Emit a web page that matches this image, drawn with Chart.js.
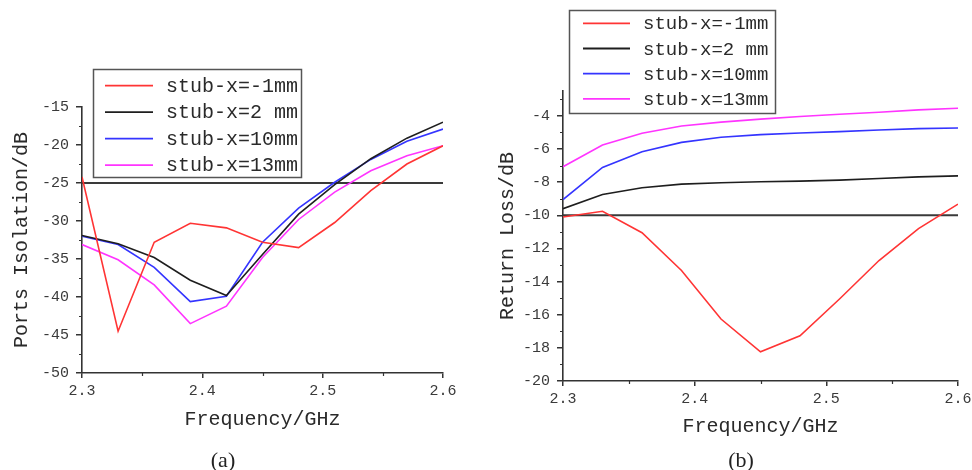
<!DOCTYPE html>
<html>
<head>
<meta charset="utf-8">
<script src="https://cdn.jsdelivr.net/npm/chart.js@4.4.1/dist/chart.umd.min.js"></script>
<style>
  html, body { margin: 0; padding: 0; background: #fff; }
  #wrap { position: relative; width: 972px; height: 470px; overflow: hidden; }
  .pane { position: absolute; top: 0; height: 470px; }
  .cap { position: absolute; top: 460px; transform: translate(-50%, -50%);
         font: 22px "Liberation Serif", serif; color: #222; }
</style>
</head>
<body>
<div id="wrap">
  <div class="pane" style="left:0;width:486px"><canvas id="isoChart"></canvas></div>
  <div class="pane" style="left:486px;width:500px"><canvas id="rlChart"></canvas></div>
  <div class="cap" style="left:223px">(a)</div>
  <div class="cap" style="left:741px">(b)</div>
</div>
<script>
// Frequency sweep points (GHz)
const freqs = [2.30, 2.33, 2.36, 2.39, 2.42, 2.45, 2.48, 2.51, 2.54, 2.57, 2.60];

// Stub offsets shown in the legends
const stubLabels = ['stub-x=-1mm', 'stub-x=2 mm', 'stub-x=10mm', 'stub-x=13mm'];

// (a) Port isolation, dB
const isoM1  = [-24.2, -44.5, -32.8, -30.3, -30.9, -32.8, -33.5, -30.2, -26.0, -22.5, -20.1];
const iso2   = [-31.9, -33.0, -34.8, -37.8, -39.8, -34.4, -29.1, -25.2, -21.8, -19.1, -17.0];
const iso10  = [-32.0, -33.1, -36.1, -40.6, -39.9, -32.8, -28.3, -24.9, -21.9, -19.5, -17.9];
const iso13  = [-33.1, -35.1, -38.4, -43.5, -41.2, -34.8, -29.8, -26.2, -23.4, -21.4, -20.1];
const isoLimit = -25;

// (b) Return loss, dB
const rlM1 = [-10.1, -9.76, -11.05, -13.33, -16.26, -18.24, -17.27, -15.05, -12.73, -10.8, -9.33];
const rl2  = [-9.6, -8.75, -8.34, -8.12, -8.04, -7.98, -7.94, -7.88, -7.78, -7.68, -7.62];
const rl10 = [-9.05, -7.11, -6.16, -5.6, -5.29, -5.13, -5.03, -4.95, -4.85, -4.77, -4.73];
const rl13 = [-7.07, -5.76, -5.05, -4.61, -4.38, -4.2, -4.04, -3.9, -3.78, -3.64, -3.54];
const rlLimit = -10;

// Axis ranges and tick labels
const xTickLabels = ['2.3', '2.4', '2.5', '2.6'];
const isoRange = { min: -50, max: -15, step: 5 };
const rlRange  = { min: -20, max: -2.5, step: 2 };

const seriesColors = ['#ff3434', '#1e1e1e', '#3434ff', '#ff34ff'];
const AXIS = '#333';
const MONO = '"Liberation Mono", "DejaVu Sans Mono", monospace';

function toPoints(ys) { return ys.map((y, i) => ({ x: freqs[i], y })); }

function buildDatasets(seriesList, limit) {
  const ds = seriesList.map((ys, i) => ({
    label: stubLabels[i],
    data: toPoints(ys),
    borderColor: seriesColors[i],
    borderWidth: 1.6,
    pointRadius: 0,
    tension: 0,
    order: 1
  }));
  ds.push({
    label: 'limit',
    inLegend: false,
    data: [{ x: freqs[0], y: limit }, { x: freqs[freqs.length - 1], y: limit }],
    borderColor: '#3a3a3a',
    borderWidth: 2,
    pointRadius: 0,
    order: 2
  });
  return ds;
}

// Short tick marks halfway between the labelled ticks
const minorTicks = {
  id: 'minorTicks',
  afterDraw(chart, args, opts) {
    const { ctx, chartArea } = chart;
    const xs = chart.scales.x, ys = chart.scales.y;
    ctx.save();
    ctx.strokeStyle = AXIS;
    ctx.lineWidth = 1.2;
    const mids = (scale) => {
      const t = scale.ticks.map(k => k.value);
      const out = [];
      for (let i = 0; i < t.length - 1; i++) out.push((t[i] + t[i + 1]) / 2);
      const half = (t[1] - t[0]) / 2;
      if (t[t.length - 1] + half <= scale.max + 1e-9) out.push(t[t.length - 1] + half);
      return out;
    };
    ctx.beginPath();
    mids(xs).forEach(v => {
      const px = Math.round(xs.getPixelForValue(v)) + 0.5;
      ctx.moveTo(px, chartArea.bottom);
      ctx.lineTo(px, chartArea.bottom + opts.len);
    });
    mids(ys).forEach(v => {
      const py = Math.round(ys.getPixelForValue(v)) + 0.5;
      ctx.moveTo(chartArea.left, py);
      ctx.lineTo(chartArea.left - opts.len, py);
    });
    ctx.stroke();
    ctx.restore();
  }
};

// Boxed legend that may sit over the plot area
const boxLegend = {
  id: 'boxLegend',
  afterDatasetsDraw(chart, args, o) {
    const { ctx } = chart;
    const items = chart.data.datasets.filter(d => d.inLegend !== false);
    ctx.save();
    ctx.fillStyle = '#fff';
    ctx.fillRect(o.x, o.y, o.w, o.h);
    ctx.strokeStyle = '#555';
    ctx.lineWidth = 1.5;
    ctx.strokeRect(o.x + 0.5, o.y + 0.5, o.w, o.h);
    ctx.font = o.font;
    ctx.textBaseline = 'middle';
    ctx.textAlign = 'left';
    items.forEach((d, i) => {
      const ry = o.y + o.first + i * o.gap;
      ctx.strokeStyle = d.borderColor;
      ctx.lineWidth = 1.8;
      ctx.beginPath();
      ctx.moveTo(o.x + o.lineX, ry);
      ctx.lineTo(o.x + o.lineX + o.lineLen, ry);
      ctx.stroke();
      ctx.fillStyle = '#2a2a2a';
      ctx.fillText(d.label, o.x + o.textX, ry + 1);
    });
    ctx.restore();
  }
};

function makeChart(id, datasets, range, yTitle, geo, legendOpts) {
  return new Chart(document.getElementById(id), {
    type: 'line',
    data: { datasets },
    plugins: [minorTicks, boxLegend],
    options: {
      responsive: true,
      maintainAspectRatio: false,
      animation: false,
      devicePixelRatio: 1,
      layout: { padding: geo.padding },
      plugins: {
        legend: { display: false },
        tooltip: { enabled: false },
        minorTicks: { len: 3 },
        boxLegend: legendOpts
      },
      scales: {
        x: {
          type: 'linear',
          min: 2.3,
          max: 2.6,
          afterFit(s) { s.height = geo.xHeight; },
          afterBuildTicks(s) { s.ticks = xTickLabels.map(t => ({ value: parseFloat(t) })); },
          ticks: {
            color: '#3a3a3a',
            font: { family: MONO, size: 15 },
            padding: 4,
            maxRotation: 0,
            callback: (v) => xTickLabels.find(t => Math.abs(parseFloat(t) - v) < 1e-6) || ''
          },
          grid: { drawOnChartArea: false, drawTicks: true, tickLength: 5, color: AXIS, lineWidth: 1.5 },
          border: { display: true, color: AXIS, width: 1.6 },
          title: {
            display: true,
            text: 'Frequency/GHz',
            color: '#2a2a2a',
            font: { family: MONO, size: 20 },
            padding: { top: 4, bottom: 4 }
          }
        },
        y: {
          type: 'linear',
          min: range.min,
          max: range.max,
          afterFit(s) { s.width = geo.yWidth; },
          ticks: {
            stepSize: range.step,
            includeBounds: false,
            color: '#3a3a3a',
            font: { family: MONO, size: 15 },
            padding: 7
          },
          grid: { drawOnChartArea: false, drawTicks: true, tickLength: 6, color: AXIS, lineWidth: 1.5 },
          border: { display: true, color: AXIS, width: 1.6 },
          title: {
            display: true,
            text: yTitle,
            color: '#2a2a2a',
            font: { family: MONO, size: 20 },
            padding: { top: 4, bottom: 4 }
          }
        }
      }
    }
  });
}

makeChart('isoChart',
  buildDatasets([isoM1, iso2, iso10, iso13], isoLimit),
  isoRange, 'Ports Isolation/dB',
  { padding: { left: 6, right: 43, top: 107, bottom: 34 }, yWidth: 76, xHeight: 63 },
  { x: 93, y: 69, w: 208, h: 108, first: 16.7, gap: 26.5, lineX: 12, lineLen: 48, textX: 73,
    font: '20px ' + MONO });

makeChart('rlChart',
  buildDatasets([rlM1, rl2, rl10, rl13], rlLimit),
  rlRange, 'Return Loss/dB',
  { padding: { left: 6, right: 28, top: 91, bottom: 27 }, yWidth: 71, xHeight: 62 },
  { x: 83, y: 10, w: 206, h: 103, first: 13.3, gap: 25.2, lineX: 14, lineLen: 47, textX: 74,
    font: '19px ' + MONO });
</script>
</body>
</html>
